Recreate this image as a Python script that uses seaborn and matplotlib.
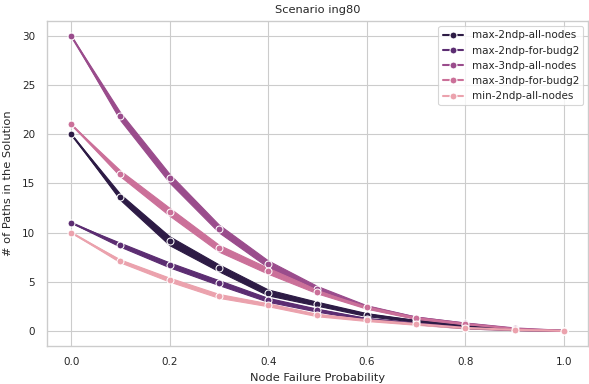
import matplotlib
matplotlib.use('Agg')
import matplotlib.pyplot as plt
import pandas as pd
import seaborn as sns

sns.set_theme(context="paper", style="whitegrid", font_scale=0.85)

# failure probabilities on the x axis
probs = [0.0, 0.1, 0.2, 0.3, 0.4, 0.5, 0.6, 0.7, 0.8, 0.9, 1.0]

series = ["max-2ndp-all-nodes", "max-2ndp-for-budg2", "max-3ndp-all-nodes",
          "max-3ndp-for-budg2", "min-2ndp-all-nodes"]

# mean number of paths per series
max2_all = [20, 13.6, 9.15, 6.4, 3.9, 2.75, 1.65, 1.0, 0.45, 0.15, 0]
max2_budg2 = [11, 8.75, 6.7, 4.9, 3.15, 2.1, 1.2, 0.75, 0.3, 0.1, 0]
max3_all = [30, 21.8, 15.5, 10.4, 6.8, 4.3, 2.45, 1.35, 0.75, 0.25, 0]
max3_budg2 = [21, 16.0, 12.1, 8.4, 6.1, 4.0, 2.4, 1.3, 0.7, 0.2, 0]
min2_all = [10, 7.1, 5.2, 3.55, 2.65, 1.6, 1.1, 0.7, 0.3, 0.1, 0]

# half width of the spread over runs
max2_all_sd = [0, 0.3, 0.45, 0.35, 0.3, 0.2, 0.15, 0.1, 0.08, 0.05, 0]
max2_budg2_sd = [0, 0.2, 0.25, 0.25, 0.2, 0.15, 0.1, 0.08, 0.05, 0.03, 0]
max3_all_sd = [0, 0.4, 0.45, 0.4, 0.35, 0.25, 0.15, 0.1, 0.08, 0.05, 0]
max3_budg2_sd = [0, 0.3, 0.4, 0.35, 0.3, 0.2, 0.15, 0.1, 0.08, 0.05, 0]
min2_all_sd = [0, 0.15, 0.2, 0.2, 0.15, 0.12, 0.1, 0.08, 0.05, 0.03, 0]

colors = ["#2d1b45", "#5c2d72", "#9a4c8c", "#cb7099", "#eba2ad"]

means = [max2_all, max2_budg2, max3_all, max3_budg2, min2_all]
spreads = [max2_all_sd, max2_budg2_sd, max3_all_sd, max3_budg2_sd, min2_all_sd]

rows = []
for name, m, s in zip(series, means, spreads):
    for p, v, d in zip(probs, m, s):
        rows.append({"prob": p, "paths": v - d, "scenario": name})
        rows.append({"prob": p, "paths": v + d, "scenario": name})
df = pd.DataFrame(rows)

fig, ax = plt.subplots(figsize=(5.89, 3.84), dpi=100)
sns.lineplot(data=df, x="prob", y="paths", hue="scenario", palette=colors,
             marker="o", markersize=5, linewidth=1.5,
             errorbar=lambda v: (v.min(), v.max()),
             err_kws={"alpha": 1.0}, ax=ax)

ax.set_title("Scenario ing80")
ax.set_xlabel("Node Failure Probability")
ax.set_ylabel("# of Paths in the Solution", labelpad=6)
ax.legend(title=None, loc="upper right")

plt.subplots_adjust(left=0.079, right=0.999, top=0.945, bottom=0.1)
plt.savefig("out.png", dpi=100)
plt.close()
